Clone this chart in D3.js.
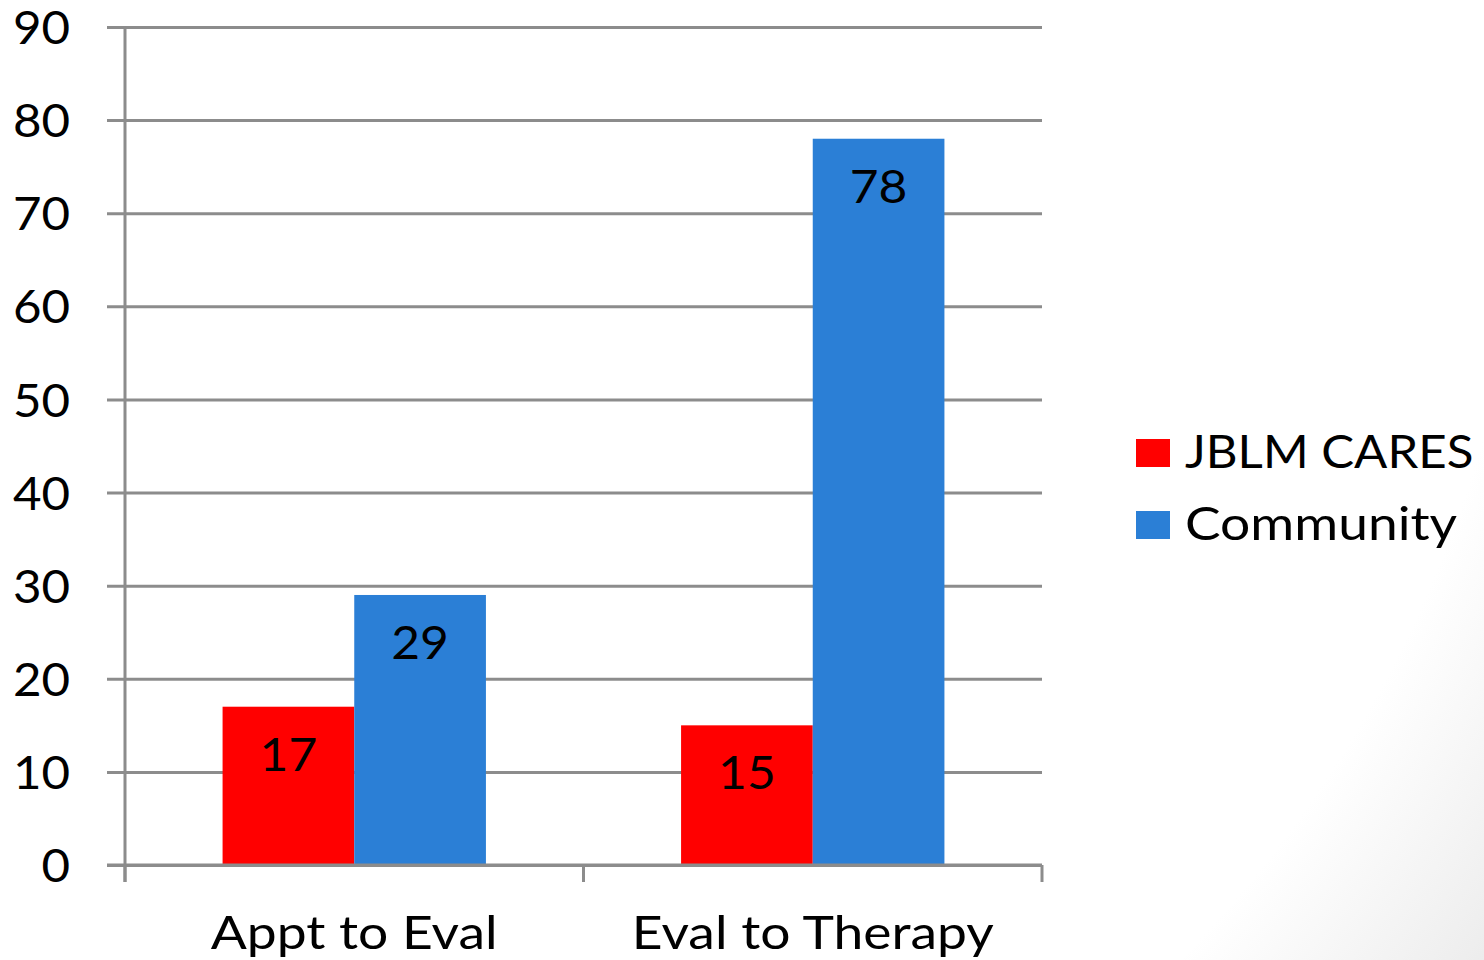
<!DOCTYPE html>
<html>
<head>
<meta charset="utf-8">
<script src="https://cdn.jsdelivr.net/npm/d3@7"></script>
<style>
  html, body { margin: 0; padding: 0; background: #fff; }
  svg { display: block; }
  text { font-family: Lato, "Open Sans", sans-serif; fill: #000; }
</style>
</head>
<body>
<svg id="chart" width="1484" height="960"></svg>
<script>
// Wait times (days) by stage
const categories = ["Appt to Eval", "Eval to Therapy"];
const seriesNames = ["JBLM CARES", "Community"];
const jblmValues = [17, 15];
const communityValues = [29, 78];
const yTicks = [0, 10, 20, 30, 40, 50, 60, 70, 80, 90];
const seriesColors = ["#ff0000", "#2b7fd6"];

const svg = d3.select("#chart");
const W = 1484, H = 960;

// widen glyphs a little so the lettering has a broader, Calibri-on-slide look
function widen(sel, factor) {
  sel.each(function (d, i) {
    const f = typeof factor === "function" ? factor(d, i) : factor;
    const w = this.getComputedTextLength();
    d3.select(this).attr("textLength", w * f).attr("lengthAdjust", "spacingAndGlyphs");
  });
}

// soft slide background: white, greying towards the lower-right corner
const defs = svg.append("defs");
const grad = defs.append("radialGradient")
  .attr("id", "bg").attr("gradientUnits", "userSpaceOnUse")
  .attr("cx", 300).attr("cy", 100).attr("r", 1500);
grad.append("stop").attr("offset", "0.82").attr("stop-color", "#ffffff");
grad.append("stop").attr("offset", "0.98").attr("stop-color", "#ececec");
svg.append("rect").attr("width", W).attr("height", H).attr("fill", "url(#bg)");

const plot = { left: 125, right: 1042, top: 27, bottom: 865 };

const y = d3.scaleLinear().domain([0, 90]).range([plot.bottom, plot.top]);
const x0 = d3.scaleBand().domain(categories).range([plot.left, plot.right]).padding(0);
const x1 = d3.scaleBand().domain(seriesNames).range([0, x0.bandwidth()])
  .paddingInner(0).paddingOuter(0.741);

const rows = categories.map((c, i) => ({
  category: c,
  values: [
    { series: seriesNames[0], value: jblmValues[i] },
    { series: seriesNames[1], value: communityValues[i] }
  ]
}));

const gridColor = "#8c8c8c";

// horizontal gridlines with left tick stubs
const yAxis = d3.axisLeft(y).tickValues(yTicks)
  .tickSize(-(plot.right - plot.left)).tickSizeOuter(0).tickPadding(36);
const gy = svg.append("g").attr("transform", `translate(${plot.left},0)`).call(yAxis);
gy.select(".domain").remove();
gy.selectAll(".tick line")
  .attr("x1", -18)
  .attr("stroke", gridColor).attr("stroke-width", 3);
const yLabels = gy.selectAll(".tick text")
  .attr("x", -55)
  .attr("dy", "0.36em")
  .style("font-size", "46px").style("font-family", "Lato, sans-serif").attr("fill", "#000");
widen(yLabels, 1.07);

// vertical axis line
svg.append("line")
  .attr("x1", plot.left).attr("x2", plot.left)
  .attr("y1", y(90)).attr("y2", plot.bottom + 17)
  .attr("stroke", gridColor).attr("stroke-width", 3);

// bars
const groups = svg.append("g").selectAll("g").data(rows).join("g")
  .attr("transform", d => `translate(${x0(d.category)},0)`);

groups.selectAll("rect").data(d => d.values).join("rect")
  .attr("x", d => x1(d.series))
  .attr("y", d => y(d.value))
  .attr("width", x1.bandwidth())
  .attr("height", d => y(0) - y(d.value))
  .attr("fill", (d, i) => seriesColors[i]);

const valLabels = groups.selectAll("text.val").data(d => d.values).join("text")
  .attr("class", "val")
  .attr("x", d => x1(d.series) + x1.bandwidth() / 2)
  .attr("y", d => y(d.value) + 64)
  .attr("text-anchor", "middle")
  .style("font-size", "46px")
  .text(d => d.value);
widen(valLabels, 1.08);

// category axis along the bottom
const xAxis = d3.axisBottom(x0).tickSize(0).tickPadding(0);
const gx = svg.append("g").attr("transform", `translate(0,${plot.bottom})`).call(xAxis);
gx.select(".domain").remove();
const xLabels = gx.selectAll(".tick text")
  .attr("y", 84).attr("dy", 0)
  .style("font-size", "46px").style("font-family", "Lato, sans-serif").attr("fill", "#000");
widen(xLabels, 1.16);

svg.append("line")
  .attr("x1", plot.left - 18).attr("x2", plot.right)
  .attr("y1", plot.bottom).attr("y2", plot.bottom)
  .attr("stroke", gridColor).attr("stroke-width", 3);

// category boundary ticks
const boundaries = categories.map(c => x0(c)).concat([x0(categories[categories.length - 1]) + x0.bandwidth()]);
svg.append("g").selectAll("line").data(boundaries).join("line")
  .attr("x1", d => d).attr("x2", d => d)
  .attr("y1", plot.bottom).attr("y2", plot.bottom + 17)
  .attr("stroke", gridColor).attr("stroke-width", 3);

// legend (capitals run narrower than lowercase in the slide face)
const legend = svg.append("g").attr("transform", "translate(1136,439)");
const li = legend.selectAll("g").data(seriesNames).join("g")
  .attr("transform", (d, i) => `translate(0,${i * 72})`);
li.append("rect").attr("width", 34).attr("height", 28)
  .attr("fill", (d, i) => seriesColors[i]);
const legLabels = li.append("text").attr("x", 49).attr("y", 29)
  .style("font-size", "46px")
  .text(d => d);
widen(legLabels, d => (d === d.toUpperCase() ? 1.07 : 1.16));
</script>
</body>
</html>
